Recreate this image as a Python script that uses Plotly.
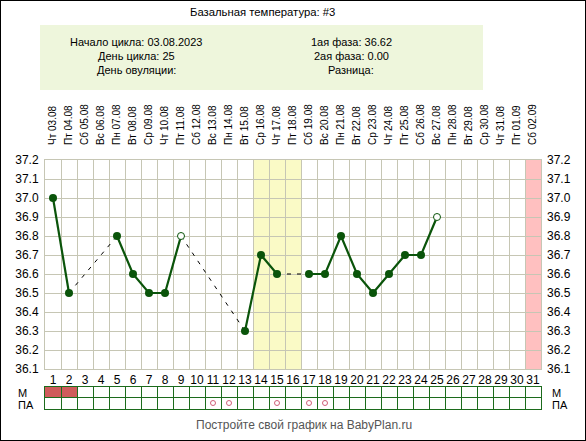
import plotly.graph_objects as go

W, H = 586, 441

# --- data -----------------------------------------------------------------
days = list(range(1, 32))
weekdays = ["Чт", "Пт", "Сб", "Вс", "Пн", "Вт", "Ср",
            "Чт", "Пт", "Сб", "Вс", "Пн", "Вт", "Ср",
            "Чт", "Пт", "Сб", "Вс", "Пн", "Вт", "Ср",
            "Чт", "Пт", "Сб", "Вс", "Пн", "Вт", "Ср",
            "Чт", "Пт", "Сб"]
dates = ["03.08", "04.08", "05.08", "06.08", "07.08", "08.08", "09.08",
         "10.08", "11.08", "12.08", "13.08", "14.08", "15.08", "16.08",
         "17.08", "18.08", "19.08", "20.08", "21.08", "22.08", "23.08",
         "24.08", "25.08", "26.08", "27.08", "28.08", "29.08", "30.08",
         "31.08", "01.09", "02.09"]
temps = [37.0, 36.5, None, None, 36.8, 36.6, 36.5, 36.5, 36.8, None,
         None, None, 36.3, 36.7, 36.6, None, 36.6, 36.6, 36.8, 36.6,
         36.5, 36.6, 36.7, 36.7, 36.9, None, None, None, None, None, None]
open_days = [9, 25]            # hollow markers
fertile_days = [14, 15, 16]    # yellow band
pink_days = [31]               # pink band
m_days = [1, 2]                # "М" row
pa_days = [11, 12, 15, 17, 18] # "ПА" row

header_left = ["Начало цикла: 03.08.2023", "День цикла: 25", "День овуляции:"]
header_right = ["1ая фаза: 36.62", "2ая фаза: 0.00", "Разница:"]
title = "Базальная температура: #3"
footer = "Постройте свой график на BabyPlan.ru"

# --- style ----------------------------------------------------------------
FONT = "Liberation Sans, Arial, sans-serif"
GRID = "#c6c6b4"
GREEN = "#0a540a"
ROWGRID = "#1c6b1c"


def px(x):
    return x / W


def py(y):
    return 1 - y / H


measured = [(d, t) for d, t in zip(days, temps) if t is not None]

# dashed segments across missing days
dash_x, dash_y = [], []
for (d0, t0), (d1, t1) in zip(measured, measured[1:]):
    if d1 - d0 > 1:
        dash_x += [d0, d1, None]
        dash_y += [t0, t1, None]

fill_x = [d for d, t in measured if d not in open_days]
fill_y = [t for d, t in measured if d not in open_days]
open_x = [d for d, t in measured if d in open_days]
open_y = [t for d, t in measured if d in open_days]

fig = go.Figure()
fig.add_trace(go.Scatter(x=dash_x, y=dash_y, mode="lines",
                         line=dict(color="black", width=1, dash="4px,6px"),
                         hoverinfo="skip", showlegend=False))
fig.add_trace(go.Scatter(x=days, y=temps, mode="lines", connectgaps=False,
                         line=dict(color=GREEN, width=2.2),
                         hoverinfo="skip", showlegend=False))
fig.add_trace(go.Scatter(x=fill_x, y=fill_y, mode="markers",
                         marker=dict(color=GREEN, size=8),
                         showlegend=False))
fig.add_trace(go.Scatter(x=open_x, y=open_y, mode="markers",
                         marker=dict(color="white", size=7,
                                     line=dict(color=GREEN, width=1)),
                         showlegend=False))
# helper trace for top / right axes
fig.add_trace(go.Scatter(x=[days[0]], y=[fill_y[0]], xaxis="x2", yaxis="y2",
                         mode="markers", marker=dict(opacity=0),
                         hoverinfo="skip", showlegend=False))
# ПА row marks
fig.add_trace(go.Scatter(x=pa_days, y=[0.5] * len(pa_days),
                         xaxis="x3", yaxis="y3", mode="markers",
                         marker=dict(symbol="circle-open", size=5,
                                     color="#d0607a", line=dict(width=1)),
                         hoverinfo="skip", showlegend=False))

shapes = []
for d in fertile_days:
    shapes.append(dict(type="rect", xref="x", yref="y domain",
                       x0=d - 0.5, x1=d + 0.5, y0=0, y1=1,
                       fillcolor="#fafac6", line_width=0, layer="below"))
for d in pink_days:
    shapes.append(dict(type="rect", xref="x", yref="y domain",
                       x0=d - 0.5, x1=d + 0.5, y0=0, y1=1,
                       fillcolor="#ffc0c0", line_width=0, layer="below"))
for d in m_days:
    shapes.append(dict(type="rect", xref="x3", yref="y3",
                       x0=d - 0.5, x1=d + 0.5, y0=1, y1=2,
                       fillcolor="#cf5b5b", line_width=0, layer="below"))
# header box and outer frame
shapes.append(dict(type="rect", xref="paper", yref="paper",
                   x0=px(40), x1=px(483), y0=py(90), y1=py(25),
                   fillcolor="#eef6dc", line_width=0, layer="below"))
shapes.append(dict(type="rect", xref="paper", yref="paper",
                   x0=0, x1=1, y0=0, y1=1,
                   line=dict(color="black", width=2), fillcolor="rgba(0,0,0,0)"))

ann = [dict(text=title, x=px(262), y=py(12), font=dict(size=11.3))]
for i, (l, r) in enumerate(zip(header_left, header_right)):
    ann.append(dict(text=l, x=px(136), y=py(42 + 14 * i), font=dict(size=11)))
    ann.append(dict(text=r, x=px(351), y=py(42 + 14 * i), font=dict(size=11)))
ann.append(dict(text=footer, x=px(304), y=py(425), font=dict(color="#555555")))
for lab, yy in [("М", 392), ("ПА", 404)]:
    for xx in (16, 550):
        ann.append(dict(text=lab, x=px(xx), y=py(yy), xanchor="left",
                        height=11, font=dict(size=11)))
for a in ann:
    a.setdefault("xanchor", "center")
    a.update(xref="paper", yref="paper", yanchor="middle", showarrow=False)

xdom = [px(45), px(541)]
xrange_ = [days[0] - 0.5, days[-1] + 0.5]
bounds = [d + 0.5 for d in days[:-1]]
yr = [36.1, 37.2]

fig.update_layout(
    width=W, height=H, margin=dict(l=0, r=0, t=0, b=0, autoexpand=False),
    paper_bgcolor="white", plot_bgcolor="white",
    font=dict(family=FONT, size=12, color="black"),
    shapes=shapes, annotations=ann, hovermode=False,
    xaxis=dict(domain=xdom, range=xrange_, anchor="y", automargin=False,
               tickmode="array", tickvals=days, ticktext=[str(d) for d in days],
               showgrid=False, zeroline=False, ticks="",
               showline=True, mirror=True, linecolor=GRID, linewidth=1,
               ticklabelstandoff=0,
               minor=dict(tickmode="array", tickvals=bounds, showgrid=True,
                          gridcolor=GRID, gridwidth=1, ticks="")),
    xaxis2=dict(overlaying="x", side="top", anchor="y", range=xrange_,
                automargin=False,
                tickmode="array", tickvals=days,
                ticktext=[f"{w} {d}" for w, d in zip(weekdays, dates)],
                tickangle=-90, tickfont=dict(size=10),
                showgrid=False, zeroline=False, ticks="",
                ticklabelstandoff=14),
    yaxis=dict(domain=[py(369), py(160)], range=yr, anchor="x",
               automargin=False,
               dtick=0.1, tick0=36.1, tickformat=".1f",
               showgrid=True, gridcolor=GRID, gridwidth=1, zeroline=False,
               showline=True, mirror=True, linecolor=GRID, ticks="",
               ticklabelstandoff=3),
    yaxis2=dict(overlaying="y", side="right", anchor="x", range=yr,
                automargin=False,
                dtick=0.1, tick0=36.1, tickformat=".1f",
                showgrid=False, zeroline=False, ticks="",
                ticklabelstandoff=5),
    xaxis3=dict(domain=xdom, range=xrange_, anchor="y3", automargin=False,
                showticklabels=False, showgrid=False, zeroline=False, ticks="",
                showline=True, mirror=True, linecolor=ROWGRID,
                minor=dict(tickmode="array", tickvals=bounds, showgrid=True,
                           gridcolor=ROWGRID, gridwidth=1, ticks="")),
    yaxis3=dict(domain=[py(408.5), py(386.5)], range=[0, 2], anchor="x3",
                automargin=False,
                tickvals=[1], showticklabels=False, showgrid=True,
                gridcolor=ROWGRID, zeroline=False, ticks="",
                showline=True, mirror=True, linecolor=ROWGRID),
)

fig.write_html("out.html", config={"displayModeBar": False},
               post_script="document.body.style.margin = '0';")
